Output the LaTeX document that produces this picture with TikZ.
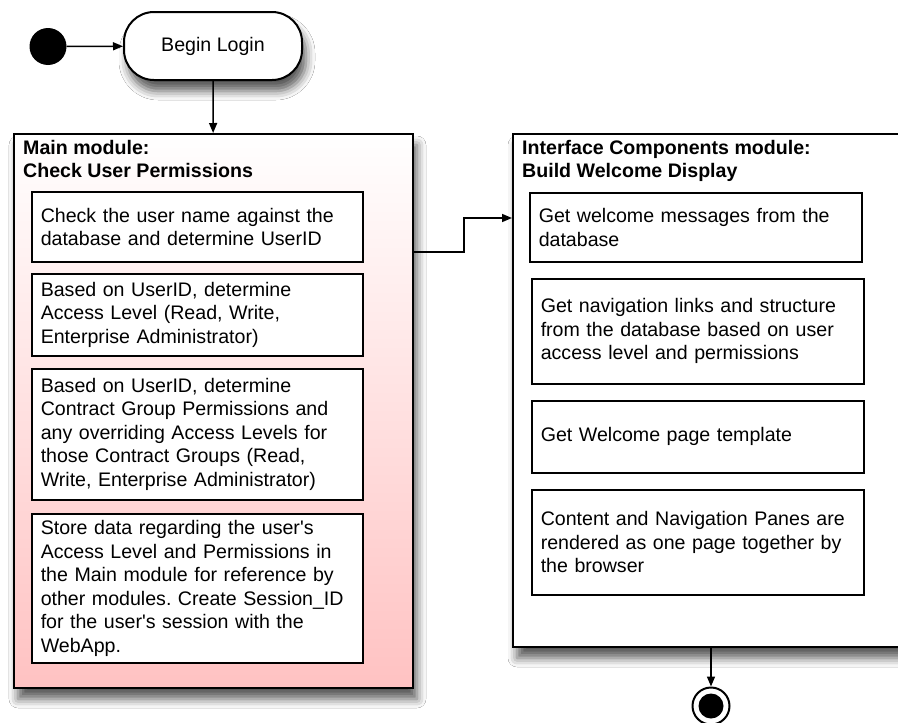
\documentclass[tikz,border=0pt]{standalone}
\usepackage{fontspec}
\setmainfont{Liberation Sans}
\usetikzlibrary{arrows.meta,shadows.blur}
\definecolor{modpink}{HTML}{FFC2C2}
\frenchspacing
\begin{document}
\begin{tikzpicture}[x=1pt,y=-1pt,
  font=\fontsize{19.6}{23.5}\selectfont,
  drop/.style={blur shadow={shadow xshift=4pt,shadow yshift=-11pt,
      shadow blur radius=9pt,shadow opacity=65}},
  module/.style={draw=black,line width=2pt,anchor=north west,
      inner sep=0pt,drop},
  modtitle/.style={font=\fontsize{19.6}{23.5}\selectfont\bfseries,
      anchor=north west,align=left,inner sep=0pt},
  task/.style={draw=black,line width=1.5pt,fill=white,anchor=north west,
      text width=313pt,inner xsep=9pt,inner ysep=0pt,align=left},
  arr/.style={-{Triangle[length=10pt,width=8pt]},line width=1.5pt},
]
\clip (0,0) rectangle (898,723);
\fill[white] (0,0) rectangle (898,723);

% initial state and first activity
\node[circle,fill=black,minimum size=37pt,inner sep=0pt] (start) at (48,46.5) {};
\node[draw=black,line width=2pt,rounded corners=30pt,fill=white,
      minimum width=178pt,minimum height=68pt,drop] (login) at (213,46) {Begin Login};

% Main module
\node[module,top color=white,bottom color=modpink,
      minimum width=399pt,minimum height=554pt] (mainbox) at (13,133) {};
\node[modtitle] (maintitle) at (23,140) {Main module:\\Check User Permissions};
\node[task,minimum height=70pt] (m1) at (31,191)
  {Check the user name against the\\database and determine UserID};
\node[task,minimum height=82pt] (m2) at (31,273)
  {Based on UserID, determine\\Access Level (Read, Write,\\Enterprise Administrator)};
\node[task,minimum height=131pt] (m3) at (31,368)
  {Based on UserID, determine\\Contract Group Permissions and\\any overriding Access Levels for\\those Contract Groups (Read,\\Write, Enterprise Administrator)};
\node[task,minimum height=149pt] (m4) at (31,513)
  {Store data regarding the user\textquotesingle s\\Access Level and Permissions in\\the Main module for reference by\\other modules. Create Session\_ID\\for the user\textquotesingle s session with the\\WebApp.};

% Interface Components module
\node[module,fill=white,minimum width=400pt,minimum height=513pt] (uibox) at (512,133) {};
\node[modtitle] (uititle) at (522,140) {Interface Components module:\\Build Welcome Display};
\node[task,minimum height=69pt,text width=314pt] (r1) at (529,192)
  {Get welcome messages from the\\database};
\node[task,minimum height=105pt,text width=314pt] (r2) at (531,278)
  {Get navigation links and structure\\from the database based on user\\access level and permissions};
\node[task,minimum height=72pt,text width=314pt] (r3) at (531,400)
  {Get Welcome page template};
\node[task,minimum height=105pt,text width=314pt] (r4) at (531,489)
  {Content and Navigation Panes are\\rendered as one page together by\\the browser};

% final state
\node[circle,draw=black,line width=2pt,fill=white,minimum size=37pt,inner sep=0pt] (final) at (711,706) {};
\fill[black] (final.center) circle[radius=12.5];

% connectors
\draw[arr] (start) -- (login);
\draw[arr] (login) -- (mainbox);
\draw[arr] ([yshift=-119pt]mainbox.north east) -- ++(50,0)
  |- ([yshift=-85pt]uibox.north west);
\draw[arr] ([xshift=199pt]uibox.south west) -- (final);
\end{tikzpicture}
\end{document}
